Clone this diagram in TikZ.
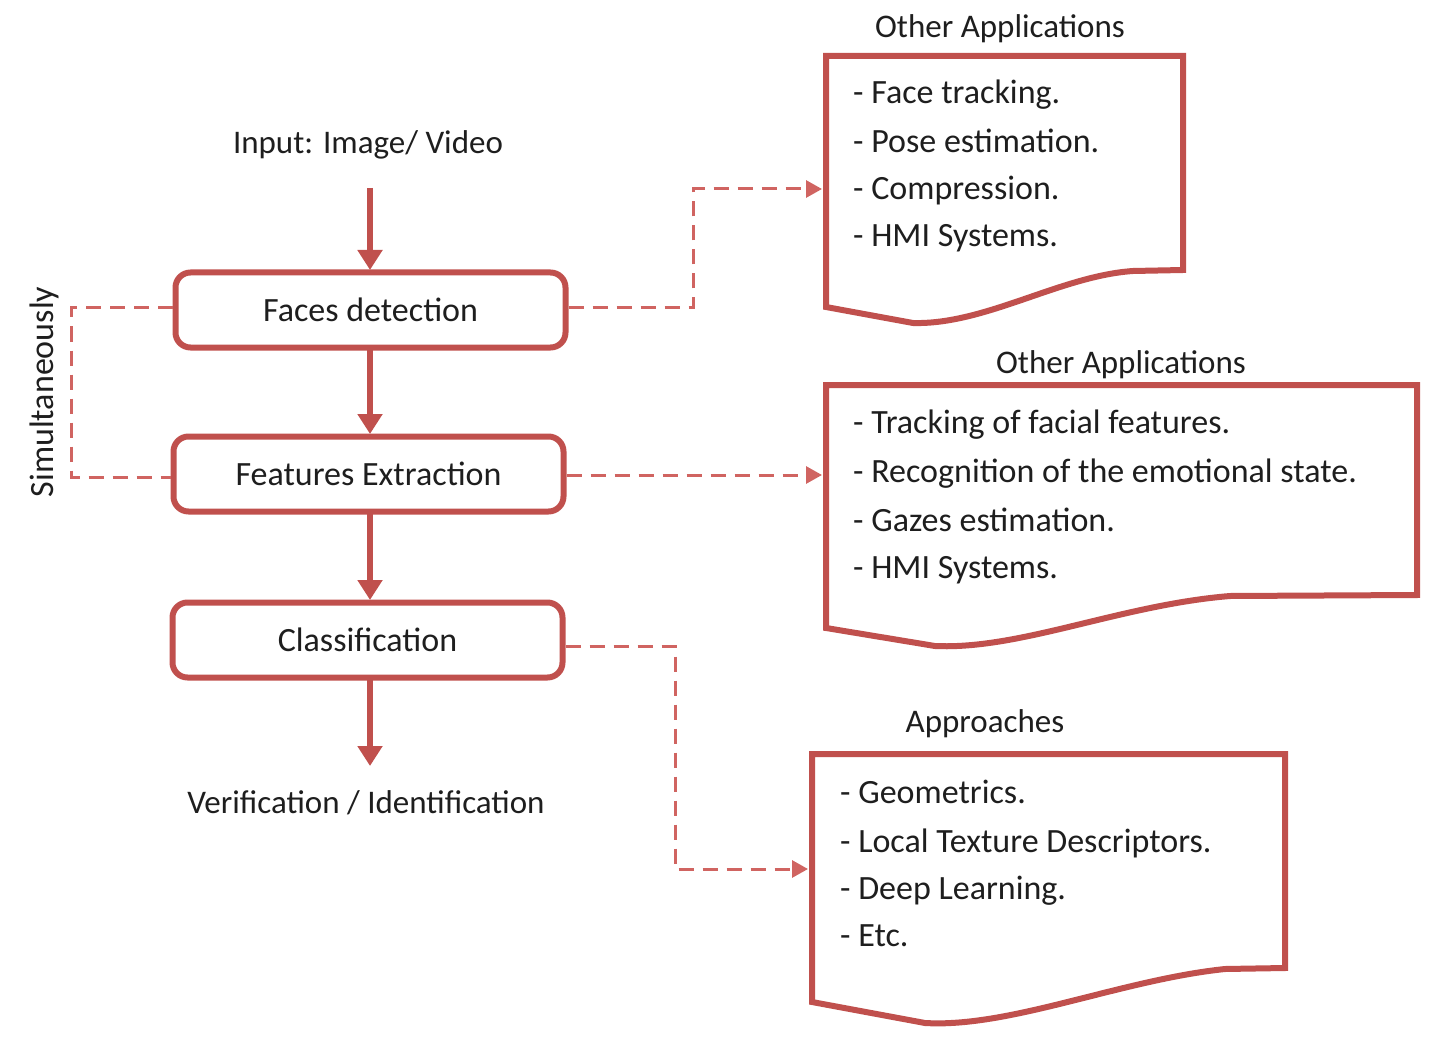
\documentclass[tikz,border=0pt]{standalone}
\usepackage{fontspec}
\setmainfont{Carlito}
\usetikzlibrary{arrows.meta}
\definecolor{boxred}{RGB}{192,80,77}
\definecolor{dashred}{RGB}{208,100,97}
\definecolor{txt}{RGB}{30,30,30}
\tikzset{
  stage/.style={draw=boxred, line width=6pt, rounded corners=15pt, minimum width=390pt, minimum height=75pt, fill=white, text=txt, font=\fontsize{34}{40}\selectfont},
  lbl/.style={text=txt, font=\fontsize{33}{40}\selectfont, inner sep=0pt, anchor=base},
  item/.style={text=txt, font=\fontsize{34}{40}\selectfont, inner sep=0pt, anchor=base west},
  flow/.style={draw=boxred, line width=6pt, -{Triangle[length=20pt,width=24pt]}},
  dashline/.style={draw=dashred, line width=3pt, dash pattern=on 15pt off 9pt},
  dasharrow/.style={dashline, -{Triangle[length=16pt,width=17pt]}},
  doc/.style={draw=boxred, line width=6pt, line join=miter, fill=white},
}
\begin{document}
\begin{tikzpicture}[x=1pt,y=-1pt]
\useasboundingbox (0,0) rectangle (1442,1056);

% stages
\node[stage] (fd) at (370.5,310) {Faces detection};
\node[stage] (fe) at (368.5,474) {Features Extraction};
\node[stage] (cl) at (367.5,640) {Classification};
\node[lbl] (in) at (368,154) {Input: Image/ Video};
\node[lbl] (out) at (366,813) {Verification / Identification};
\node[text=txt, font=\fontsize{34}{40}\selectfont, inner sep=0pt, rotate=90] (sim) at (44,392) {Simultaneously};

\coordinate (inb) at (370,188);
\coordinate (outt) at (370,766);
\draw[flow] (inb) -- (370,270);
\draw[flow] (370,350) -- (370,434);
\draw[flow] (370,514) -- (370,600);
\draw[flow] (370,680) -- (outt);

% documents
\draw[doc] (826,56) -- (1183,56) -- (1183,270) -- (1133,271)
  .. controls (1060,276) and (985,325) .. (913,323) -- (826,307) -- cycle;
\draw[doc] (826,385) -- (1417,385) -- (1417,595) -- (1230,596)
  .. controls (1120,605) and (1020,650) .. (935,646) -- (826,628) -- cycle;
\draw[doc] (812,754) -- (1285,754) -- (1285,968) -- (1225,969)
  .. controls (1120,980) and (1010,1028) .. (925,1023) -- (812,1002) -- cycle;

\coordinate (d1) at (822,189);
\coordinate (d2) at (822,475);
\coordinate (d3) at (808,869);

\node[lbl] (t1) at (1000,38) {Other Applications};
\node[lbl] (t2) at (1121,373) {Other Applications};
\node[lbl] (t3) at (985,732) {Approaches};

\node[item] (a1) at (853,104) {- Face tracking.};
\node[item] (a2) at (853,153) {- Pose estimation.};
\node[item] (a3) at (853,200) {- Compression.};
\node[item] (a4) at (853,247) {- HMI Systems.};

\node[item] (b1) at (853,433) {- Tracking of facial features.};
\node[item] (b2) at (853,482) {- Recognition of the emotional state.};
\node[item] (b3) at (853,531) {- Gazes estimation.};
\node[item] (b4) at (853,578) {- HMI Systems.};

\node[item] (c1) at (840,803) {- Geometrics.};
\node[item] (c2) at (840,852) {- Local Texture Descriptors.};
\node[item] (c3) at (840,899) {- Deep Learning.};
\node[item] (c4) at (840,946) {- Etc.};

% dashed connectors
\draw[dashline] (fd.west |- 0,308) -- (71,308) -- (71,477) -- (fe.west |- 0,477);
\draw[dasharrow] (fd.east |- 0,308) -- (693,308) -- (693,189) -- (d1);
\draw[dasharrow] (fe.east |- 0,475) -- (d2);
\draw[dasharrow] (cl.east |- 0,646) -- (675,646) -- (675,869) -- (d3);
\end{tikzpicture}
\end{document}
